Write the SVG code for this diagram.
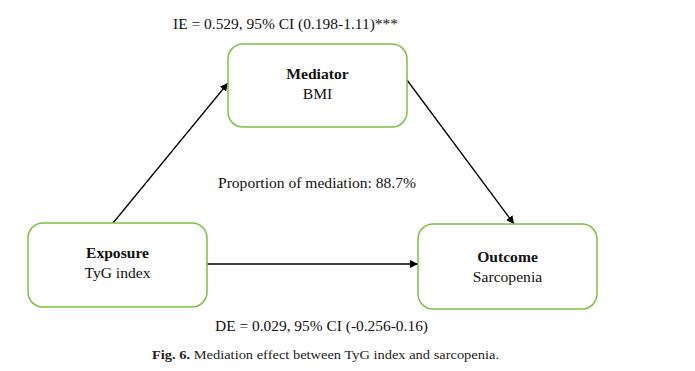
<svg xmlns="http://www.w3.org/2000/svg" width="695" height="371" viewBox="0 0 695 371">
<style>
.box{fill:#fff;stroke:#7cc142;stroke-width:1.5}
.t{font-family:"Liberation Serif","Times New Roman",serif;font-size:15.6px;fill:#111}
.b{font-weight:bold}
.c{text-anchor:middle}
.edge{stroke:#000;stroke-width:1.3;fill:none}
.cap{font-family:"Liberation Serif","Times New Roman",serif;font-size:13.5px;fill:#222}
</style>
<defs>
<marker id="ah" viewBox="0 0 10 10" refX="10" refY="5" markerWidth="8" markerHeight="8" markerUnits="userSpaceOnUse" orient="auto">
<path d="M0,0 L10,5 L0,10 z" fill="#000"/>
</marker>
</defs>
<rect width="695" height="371" fill="#fff"/>
<g id="connectors">
<line class="edge" x1="113" y1="223" x2="228" y2="83" marker-end="url(#ah)"/>
<line class="edge" x1="407" y1="80" x2="514" y2="224" marker-end="url(#ah)"/>
<line class="edge" x1="207" y1="264" x2="418" y2="264" marker-end="url(#ah)"/>
</g>
<g id="mediator">
<rect class="box" x="228" y="44" width="179" height="83" rx="15"/>
<text class="t b c" x="317.5" y="79">Mediator</text>
<text class="t c" x="317.5" y="99">BMI</text>
</g>
<g id="exposure">
<rect class="box" x="28" y="223" width="179" height="84" rx="15"/>
<text class="t b c" x="117.5" y="258">Exposure</text>
<text class="t c" x="117.5" y="278">TyG index</text>
</g>
<g id="outcome">
<rect class="box" x="418" y="224" width="179" height="85" rx="15"/>
<text class="t b c" x="507.5" y="262">Outcome</text>
<text class="t c" x="507.5" y="282">Sarcopenia</text>
</g>
<g id="labels">
<text class="t" x="173" y="29" textLength="225" lengthAdjust="spacingAndGlyphs">IE = 0.529, 95% CI (0.198-1.11)***</text>
<text class="t" x="218" y="188" textLength="198" lengthAdjust="spacingAndGlyphs">Proportion of mediation: 88.7%</text>
<text class="t" x="215" y="331" textLength="213" lengthAdjust="spacingAndGlyphs">DE = 0.029, 95% CI (-0.256-0.16)</text>
<text class="cap" x="152" y="359" textLength="347" lengthAdjust="spacingAndGlyphs"><tspan font-weight="bold">Fig. 6.</tspan>  Mediation effect between TyG index and sarcopenia.</text>
</g>
</svg>
